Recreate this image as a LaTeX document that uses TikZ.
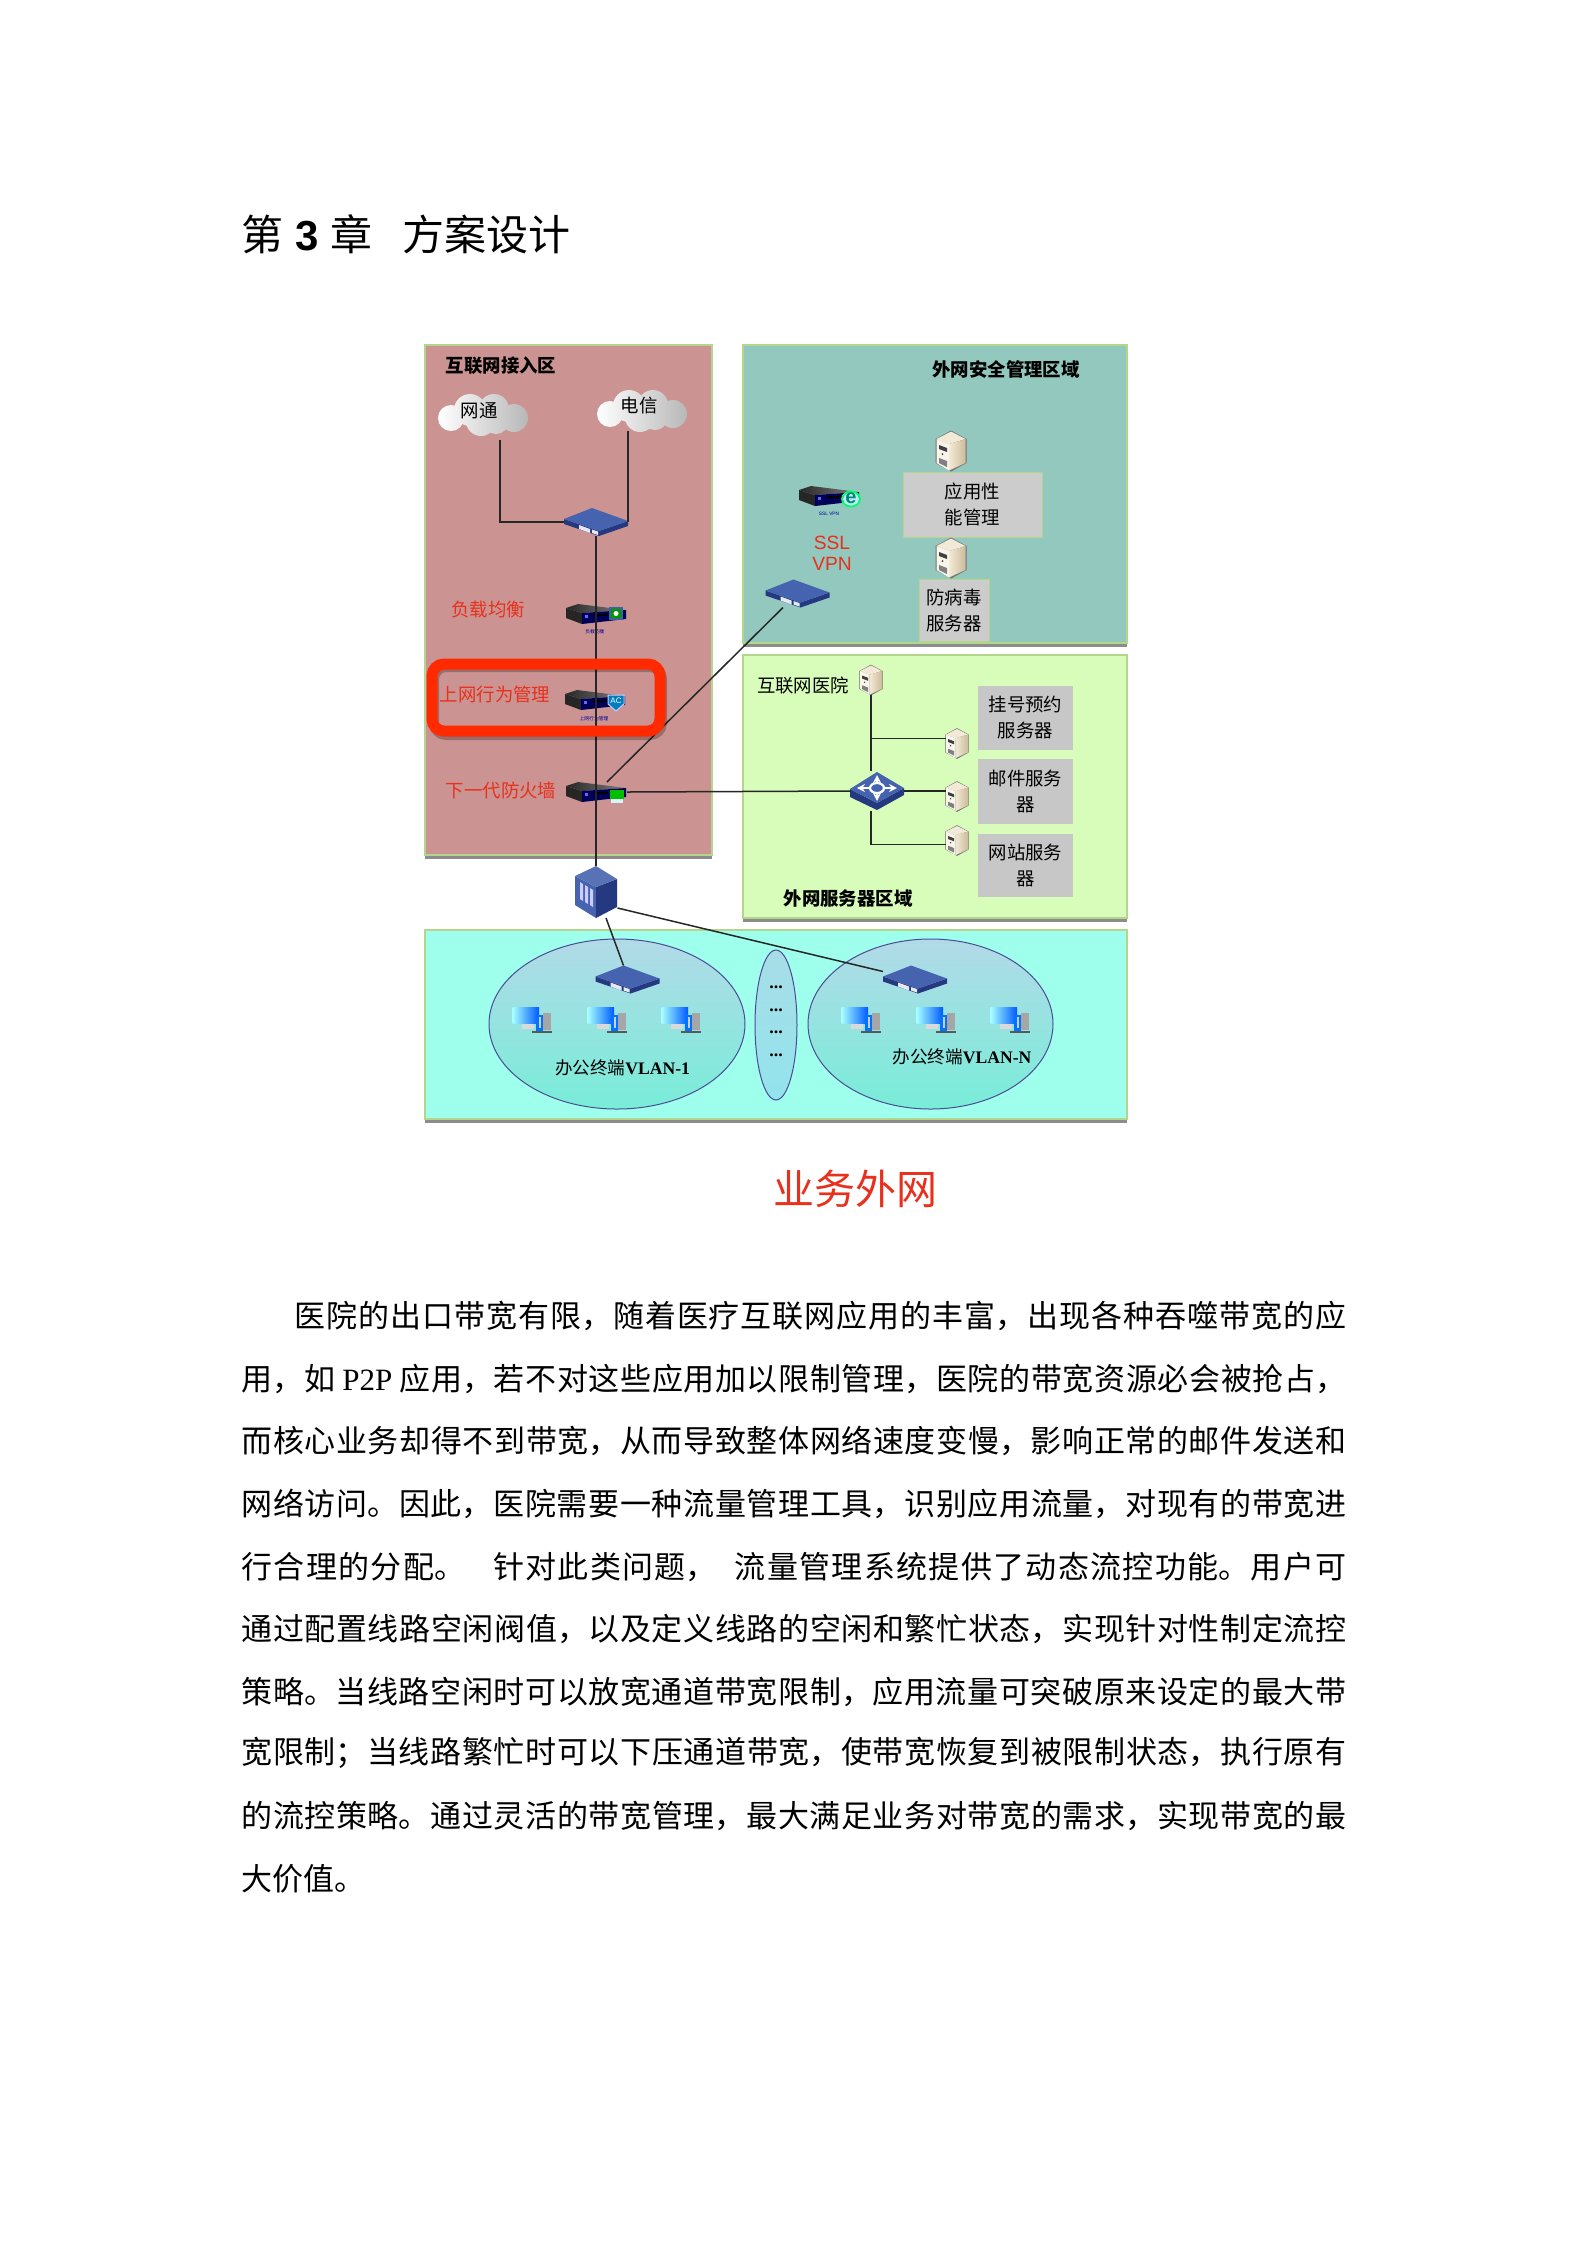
\documentclass[tikz,border=0pt]{standalone}
\usepackage{fontspec}
\usepackage{xcolor}
\usetikzlibrary{arrows.meta, calc, positioning, shadows}
\setmainfont{Noto Sans CJK SC}
\newfontfamily\latserif{Liberation Serif}
\newfontfamily\latsans{Liberation Sans}
\XeTeXlinebreaklocale "zh"
\XeTeXlinebreakskip=0pt plus 4pt minus 1pt
\newcommand{\fullline}[2]{\parbox{#1}{\parfillskip=0pt\relax #2\par}}

\definecolor{zonePink}{HTML}{CB9391}
\definecolor{zoneTeal}{HTML}{92C8BE}
\definecolor{zoneGreen}{HTML}{D8FDBA}
\definecolor{zoneCyan}{HTML}{9EFFEC}
\definecolor{zoneEdge}{HTML}{B4D68C}
\definecolor{alertRed}{HTML}{FF2A00}
\definecolor{labelRed}{HTML}{E8301C}
\definecolor{wireDark}{HTML}{262626}
\definecolor{netBlue}{HTML}{4563AE}
\definecolor{netNavy}{HTML}{24397F}
\definecolor{vlanTop}{HTML}{B2DAE8}
\definecolor{vlanBot}{HTML}{78EDD8}
\definecolor{gapTop}{HTML}{A8DDE8}
\definecolor{gapBot}{HTML}{92E4EC}
\definecolor{caseCream}{HTML}{F2EAD6}
\definecolor{caseTan}{HTML}{CDBB9B}

\tikzset{
  zone/.style={draw=zoneEdge, line width=0.8pt, drop shadow={shadow xshift=0pt, shadow yshift=-2pt, opacity=.45, fill=black}},
  wire/.style={draw=wireDark, line width=0.75pt},
  devnode/.style={inner sep=0pt, outer sep=0pt},
  routernode/.style={devnode, minimum width=32pt, minimum height=14pt},
  boxnode/.style={devnode, minimum width=31pt, minimum height=10pt},
  servernode/.style={devnode, minimum width=15pt, minimum height=20pt},
  smallserver/.style={devnode, minimum width=11pt, minimum height=15pt},
  zonetitle/.style={font=\fontsize{9.2}{11}\selectfont\bfseries, black},
  redtag/.style={font=\fontsize{9.2}{11}\selectfont, labelRed},
  blacktag/.style={font=\fontsize{9.2}{11}\selectfont, black},
  tinytag/.style={font=\fontsize{2.4}{3}\selectfont, blue!60!black},
  svcbox/.style={align=center, inner sep=0pt, font=\fontsize{9.2}{13.2}\selectfont},
  bodyline/.style={anchor=west, inner sep=0pt, font=\fontsize{15.5}{18}\selectfont},
  vlanedge/.style={line width=0.5pt, blue!40!black!70},
  pics/router/.style={code={
    \fill[netNavy] (-32,-3) -- (3,9) -- (32,-1) -- (32,4) -- (3,14) -- (-32,2) -- cycle;
    \fill[netBlue] (-32,-3) -- (-4,-14) -- (32,-1) -- (3,9) -- cycle;
    \fill[white!85!netBlue] (-17,3) -- (-6,7) -- (-6,11) -- (-17,7) -- cycle;
    \fill[white!85!netBlue] (-4,7.5) -- (2,9.5) -- (2,13) -- (-4,11) -- cycle;
  }},
  pics/appliance/.style={code={
    \fill[black!85] (-30,-6) -- (-14,-1) -- (-14,10) -- (-30,4) -- cycle;
    \shade[left color=black!85, right color=black!50] (-30,-6) -- (-18,-10) -- (30,-4) -- (-14,-1) -- cycle;
    \fill[blue!35!black] (-14,-1) -- (30,-4) -- (30,5) -- (-14,10) -- cycle;
    \fill[black] (-2,0.5) -- (12,-0.5) -- (12,1.5) -- (-2,2.5) -- cycle;
    \fill[blue!60!white] (-11,1) rectangle (-8,4);
  }},
  pics/badgelb/.style={code={
    \fill[cyan!45!blue!75!black] (-7,-6) rectangle (7,7);
    \fill[green!60!black] (-5,-4) rectangle (5,5);
    \fill[white] (0,0.5) circle (2.5);
  }},
  pics/badgeac/.style={code={
    \filldraw[draw=white!80!blue, line width=0.5pt, fill=blue!35!cyan!75!black] (-8,-7) -- (8,-7) -- (8,2) -- (0,9) -- (-8,2) -- cycle;
    \node[white, font=\fontsize{4}{4}\selectfont\latsans] (acmark) at (0,-1) {AC};
  }},
  pics/badgefw/.style={code={
    \fill[green!75!black] (-7,-5) rectangle (7,4);
    \fill[white!85!cyan] (-6,4) rectangle (6,8);
  }},
  pics/badgevpn/.style={code={
    \fill[cyan!25!white] (0,0) circle (8);
    \draw[green!60!cyan, line width=0.9pt] (0,0) ellipse (9 and 7.5);
    \node[green!55!blue, font=\fontsize{10}{10}\selectfont\latsans\bfseries] (emark) at (0,-1) {e};
  }},
  pics/server/.style={code={
    \fill[black!55] (0,-20.5) -- (15.5,-12) -- (15.5,12) -- (0,20.5) -- (-15.5,12) -- (-15.5,-12) -- cycle;
    \fill[caseCream] (0,-19.5) -- (14.5,-12) -- (-2,-7) -- (-14.5,-12) -- cycle;
    \fill[caseCream!50!white] (-14.5,-12) -- (-2,-7) -- (-2,19.5) -- (-14.5,12) -- cycle;
    \shade[left color=caseCream, right color=caseTan] (-2,-7) -- (14.5,-12) -- (14.5,12) -- (-2,19.5) -- cycle;
    \fill[black!75] (-12,-6) -- (-4,-3) -- (-4,1) -- (-12,-2) -- cycle;
    \fill[black!75] (-8.5,3) circle (1);
    \fill[black!50] (-12,7) -- (-4,10) -- (-4,16) -- (-12,12) -- cycle;
  }},
  pics/computer/.style={code={
    \fill[black!15] (-10,3) rectangle (2,9);
    \shade[left color=cyan!35!white, right color=blue!65!cyan] (-19.5,-13) rectangle (7,3);
    \fill[black!35] (11,-7) rectangle (19,10);
    \fill[blue!55!cyan] (4,-5) rectangle (11,12);
    \fill[white!80!blue] (6.5,-3) rectangle (8.5,8);
    \fill[black!65] (0,11) rectangle (20,13);
  }},
  pics/tower/.style={code={
    \fill[netBlue] (-21,-16) -- (0,-5) -- (0,26) -- (-21,13) -- cycle;
    \fill[netNavy] (0,-5) -- (21,-13) -- (21,15) -- (0,26) -- cycle;
    \fill[netBlue!90!white] (0,-26) -- (21,-13) -- (0,-5) -- (-21,-16) -- cycle;
    \fill[white!80!blue] (-16,-10) -- (-13,-8) -- (-13,9) -- (-16,7) -- cycle;
    \fill[white!80!blue] (-11,-7) -- (-8,-5) -- (-8,12) -- (-11,10) -- cycle;
    \fill[white!80!blue] (-6,-4) -- (-3,-2) -- (-3,15) -- (-6,13) -- cycle;
  }},
  pics/switchhub/.style={code={
    \fill[netNavy] (-27,-2) -- (0,12) -- (27,-3) -- (27,4) -- (0,19) -- (-27,6) -- cycle;
    \fill[netBlue] (-27,-2) -- (0,-19) -- (27,-3) -- (0,12) -- cycle;
    \draw[white, line width=1pt, {Stealth[length=4pt,width=4pt]}-{Stealth[length=4pt,width=4pt]}] (-20,-3) -- (20,-3);
    \draw[white, line width=1pt, {Stealth[length=4pt,width=4pt]}-{Stealth[length=4pt,width=4pt]}] (0,-16) -- (0,10);
    \filldraw[draw=white, line width=1.1pt, fill=netBlue] (0,-3) ellipse (7 and 5);
  }},
  pics/cloudpuff/.style={code={
    \shade[left color=white, right color=black!28]
      (-33,3) circle (13) (-14,-5) circle (16) (10,-6) circle (15) (30,3) circle (14) (-3,6) circle (15) (12,6) circle (13);
  }},
}

\begin{document}
\begin{tikzpicture}[x=0.5pt,y=-0.5pt]
    \useasboundingbox (0,0) rectangle (1587,2245);
    \fill[white] (0,0) rectangle (1587,2245);

    % chapter heading
    \node[anchor=west, inner sep=0pt, font=\fontsize{21}{24}\selectfont] (chapTitle) at (241,234)
      {第\hspace{6pt}{\latsans\bfseries 3}\hspace{6pt}章\hspace{15pt}方案设计};

    % internet access zone
    \path[zone, fill=zonePink] (425,345) rectangle (712,855);
    % outer security zone
    \path[zone, fill=zoneTeal] (743,345) rectangle (1127,643);
    % outer server zone
    \path[zone, fill=zoneGreen] (743,655) rectangle (1127,918);
    % office terminal zone
    \path[zone, fill=zoneCyan] (425,930) rectangle (1127,1119);

    % zone titles
    \node[zonetitle] (titleAccess) at (501,366) {互联网接入区};
    \node[zonetitle] (titleSafe) at (1006,369) {外网安全管理区域};
    \node[zonetitle] (titleServer) at (848,899) {外网服务器区域};

    % clouds
    \pic at (484,415) {cloudpuff};
    \pic at (643,411) {cloudpuff};
    \node[blacktag] (cloudCnc) at (479,411) {网通};
    \node[blacktag] (cloudTel) at (639,406) {电信};
    \coordinate (cncFoot) at (500,440);
    \coordinate (telFoot) at (628,431);

    % access column
    \node[routernode] (rtWan) at (596,522) {};
    \pic at (rtWan) {router};
    \node[boxnode] (apLoad) at (596,614) {};
    \pic at (apLoad) {appliance};
    \pic at (616,613) {badgelb};
    \node[tinytag] (capLoad) at (595,632) {负载均衡};
    \node[redtag] (tagLoad) at (488,610) {负载均衡};
    \node[boxnode] (apBehav) at (595,700) {};
    \pic at (apBehav) {appliance};
    \pic at (616,702) {badgeac};
    \node[tinytag] (capBehav) at (594,719) {上网行为管理};
    \node[redtag] (tagBehav) at (495,694) {上网行为管理};
    \node[boxnode] (fwNext) at (596,792) {};
    \pic at (fwNext) {appliance};
    \pic at (617,795) {badgefw};
    \node[redtag] (tagFw) at (501,791) {下一代防火墙};
    \node[devnode, minimum width=21.5pt, minimum height=26pt] (tower) at (596,892) {};
    \pic at (tower) {tower};

    % ssl vpn group
    \node[boxnode] (apVpn) at (829,496) {};
    \pic at (apVpn) {appliance};
    \pic at (851,499) {badgevpn};
    \node[tinytag] (capVpn) at (829,514) {\latsans SSL VPN};
    \node[align=center, inner sep=0pt, labelRed, font=\fontsize{9.6}{10.6}\selectfont\latsans] (tagVpn) at (832,553) {SSL\\VPN};
    \node[routernode] (rtVpn) at (797.5,593.5) {};
    \pic at (rtVpn) {router};

    % management servers
    \node[servernode] (srvApm) at (951,451) {};
    \pic at (srvApm) {server};
    \node[svcbox, draw=zoneEdge, fill=black!20, minimum width=69.5pt, minimum height=32.5pt] (boxApm) at (972.5,504.5) {应用性\\能管理};
    \node[servernode] (srvAv) at (951,558) {};
    \pic at (srvAv) {server};
    \node[svcbox, draw=zoneEdge, fill=black!20, minimum width=35pt, minimum height=31pt] (boxAv) at (954,610.5) {防病毒\\服务器};

    % hospital servers
    \node[blacktag] (tagHosp) at (803,685) {互联网医院};
    \node[smallserver] (srvHosp) at (871,680) {};
    \pic[scale=.75] at (srvHosp) {server};
    \node[devnode, minimum width=26.5pt, minimum height=20pt] (swHosp) at (877,791) {};
    \pic at (swHosp) {switchhub};
    \node[smallserver] (srvReg) at (957,743.5) {};
    \pic[scale=.75] at (srvReg) {server};
    \node[smallserver] (srvMail) at (957,796.5) {};
    \pic[scale=.75] at (srvMail) {server};
    \node[smallserver] (srvWeb) at (957,840.5) {};
    \pic[scale=.75] at (srvWeb) {server};
    \node[svcbox, fill=black!22, minimum width=47.5pt, minimum height=32pt] (boxReg) at (1025.5,717.5) {挂号预约\\服务器};
    \node[svcbox, fill=black!22, minimum width=47.5pt, minimum height=32.5pt] (boxMail) at (1025.5,791.5) {邮件服务\\器};
    \node[svcbox, fill=black!22, minimum width=47.5pt, minimum height=31.5pt] (boxWeb) at (1025.5,865.5) {网站服务\\器};

    % office vlan groups
    \shade[top color=vlanTop, bottom color=vlanBot] (617,1024) ellipse (128 and 85);
    \draw[vlanedge] (617,1024) ellipse (128 and 85);
    \shade[top color=gapTop, bottom color=gapBot] (776,1025) ellipse (21 and 75);
    \draw[vlanedge] (776,1025) ellipse (21 and 75);
    \shade[top color=vlanTop, bottom color=vlanBot] (930.5,1024) ellipse (122.5 and 85);
    \draw[vlanedge] (930.5,1024) ellipse (122.5 and 85);
    \foreach \dy [count=\n] in {987,1010,1032,1055} {
      \node[inner sep=0pt, font=\fontsize{9}{9}\selectfont\latserif\bfseries] (dots\n) at (776,\dy) {...};
    }
    \node[routernode] (rtLanA) at (627.5,979.5) {};
    \pic at (rtLanA) {router};
    \node[routernode] (rtLanN) at (915,979.5) {};
    \pic at (rtLanN) {router};
    \foreach \px in {532,607,681,861,936,1010} {
      \pic at (\px,1020) {computer};
    }
    \node[inner sep=0pt, font=\fontsize{8.8}{11}\selectfont] (tagVlanA) at (622.5,1068) {办公终端{\latserif\bfseries VLAN-1}};
    \node[inner sep=0pt, font=\fontsize{8.8}{11}\selectfont] (tagVlanN) at (962,1057) {办公终端{\latserif\bfseries VLAN-N}};

    % connecting lines
    \draw[wire] (cncFoot) |- (rtWan.west);
    \draw[wire] (telFoot) -- (telFoot |- rtWan.east);
    \draw[wire] (rtWan.south) -- (tower.north);
    \draw[wire] ($(fwNext.north)+(11,0)$) -- ($(rtVpn.south)+(-14.5,0)$);
    \draw[wire] (fwNext.east) -- (swHosp.west);
    \draw[wire] (srvHosp.south) -- (srvHosp.south |- swHosp.north);
    \draw[wire] (srvHosp.south |- srvReg.west) ++(0,-5) -- ($(srvReg.west)+(0,-5)$);
    \draw[wire] (swHosp.east) -- (swHosp.east -| srvMail.west);
    \draw[wire] (srvHosp.south |- swHosp.south) |- ($(srvWeb.west)+(0,4)$);
    \draw[wire] ($(tower.south)+(10,0)$) -- ($(rtLanA.north)+(-4,0)$);
    \draw[wire] ($(tower.east)+(0,16)$) -- ($(rtLanN.west)+(0,-8)$);

    % highlight frame
    \draw[black, opacity=.25, line width=5pt, rounded corners=6pt] (434,667) rectangle (662,735);
    \draw[alertRed, line width=5.5pt, rounded corners=6pt] (432,664) rectangle (660,731);

    % caption
    \node[inner sep=0pt, labelRed, font=\fontsize{20.5}{24}\selectfont] (capNet) at (855,1189) {业务外网};

    % body text
    \node[bodyline] (bodyFirst) at (294,1316) {\fullline{526pt}{医院的出口带宽有限，随着医疗互联网应用的丰富，出现各种吞噬带宽的应}};
    \foreach \ly/\txt [count=\n] in {
      1379/{用，如~{\latserif P2P}~应用，若不对这些应用加以限制管理，医院的带宽资源必会被抢占，},
      1441/{而核心业务却得不到带宽，从而导致整体网络速度变慢，影响正常的邮件发送和},
      1504/{网络访问。因此，医院需要一种流量管理工具，识别应用流量，对现有的带宽进},
      1567/{行合理的分配。\hspace{14pt}针对此类问题，\hspace{9pt}流量管理系统提供了动态流控功能。用户可},
      1629/{通过配置线路空闲阀值，以及定义线路的空闲和繁忙状态，实现针对性制定流控},
      1692/{策略。当线路空闲时可以放宽通道带宽限制，应用流量可突破原来设定的最大带},
      1753/{宽限制；当线路繁忙时可以下压通道带宽，使带宽恢复到被限制状态，执行原有},
      1816/{的流控策略。通过灵活的带宽管理，最大满足业务对带宽的需求，实现带宽的最}} {
      \node[bodyline] (body\n) at (241,\ly) {\fullline{552.5pt}{\txt}};
    }
    \node[bodyline] (bodyLast) at (241,1879) {大价值。};
\end{tikzpicture}
\end{document}
